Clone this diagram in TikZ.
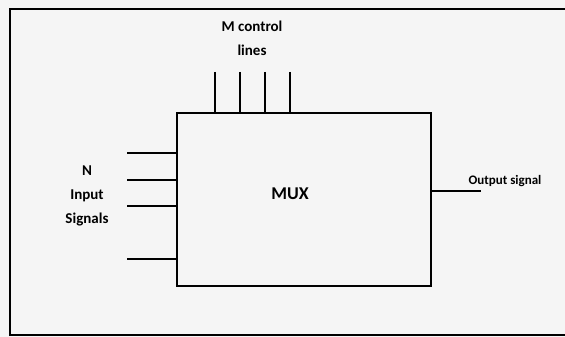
\documentclass[tikz,border=0pt]{standalone}
\usepackage{fontspec}
\setmainfont{Carlito}
\usetikzlibrary{positioning}

\tikzset{
    lbl/.style={align=center, inner sep=0pt, font=\bfseries\fontsize{15}{24}\selectfont}
}

\begin{document}
\begin{tikzpicture}[x=1pt, y=-1pt, line width=2.8pt]
        % Canvas and outer frame
        \fill[black!4] (0,0) rectangle (565,337);
        \useasboundingbox (0,0) rectangle (565,337);
        \draw[line width=1.8pt] (10,336) -- (10,9) -- (566,9);
        \draw[line width=1.8pt] (10,335) -- (566,335);

        % The MUX block
        \node[draw, minimum width=254pt, minimum height=173pt, inner sep=0pt] (mux) at (304,199.5) {};
        \node[lbl, font=\bfseries\fontsize{18}{20}\selectfont] (muxtext) at (290,194) {MUX};

        % Control lines (top)
        \foreach \x [count=\i] in {215,240,265,290} {
            \coordinate (ctl\i) at (\x,72);
            \draw (ctl\i) -- (ctl\i |- mux.north);
        }
        \node[lbl] (ctltext) at (252,38) {M control\\lines};

        % Input lines (left)
        \foreach \y [count=\i] in {153,180,206,259} {
            \coordinate (in\i) at (127,\y);
            \draw (in\i) -- (in\i -| mux.west);
        }
        \node[lbl] (intext) at (87,196) {N\\Input\\Signals};

        % Output line (right)
        \coordinate (out) at (481,191);
        \draw (mux.east |- out) -- (out);
        \node[lbl, font=\bfseries\fontsize{13}{15}\selectfont] (outtext) at (505,181) {Output signal};
\end{tikzpicture}
\end{document}
